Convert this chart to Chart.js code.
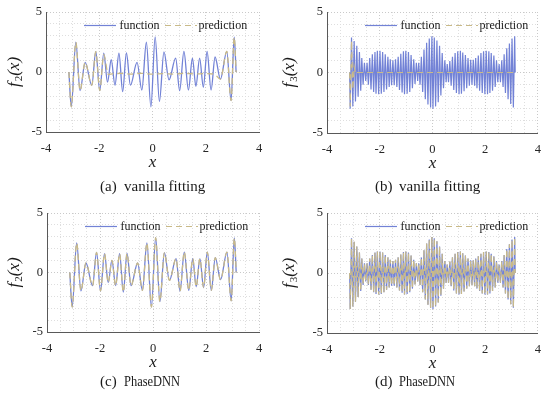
<!DOCTYPE html>
<html>
<head>
<meta charset="utf-8">
<script src="https://cdn.jsdelivr.net/npm/chart.js@4.4.1/dist/chart.umd.min.js"></script>
<style>
  body { margin: 0; background: #fff; }
  #wrap { position: relative; width: 550px; height: 399px; overflow: hidden; }
  canvas { position: absolute; }
</style>
</head>
<body>
<div id="wrap">
  <canvas id="panelA" width="275" height="200" style="left:0;top:0"></canvas>
  <canvas id="panelB" width="275" height="200" style="left:275px;top:0"></canvas>
  <canvas id="panelC" width="275" height="199" style="left:0;top:200px"></canvas>
  <canvas id="panelD" width="275" height="199" style="left:275px;top:200px"></canvas>
</div>
<script>
// ticks
const xTicks = [-4, -2, 0, 2, 4];
const yTicks = [-5, 0, 5];

// f2 (read at its peaks and troughs)
const f2X = [-3.14, -3.05, -2.88, -2.72, -2.53, -2.28, -2.13, -1.98, -1.83, -1.69,
             -1.55, -1.41, -1.26, -1.12, -0.98, -0.83, -0.58, -0.40, -0.23, -0.06,
             0.10, 0.26, 0.43, 0.62, 0.87, 1.02, 1.18, 1.35, 1.50, 1.63,
             1.77, 1.91, 2.05, 2.20, 2.35, 2.55, 2.79, 2.95, 3.07, 3.14];
const f2Y = [0, -2.9, 2.48, -1.55, 0.8, -1.1, 1.69, -1.55, 1.58, -0.85,
             1.02, -1.1, 1.58, -1.64, 1.6, -1.1, 0.8, -1.5, 2.48, -2.9,
             2.92, -2.45, 1.67, -0.66, 1.16, -1.56, 1.72, -1.5, 1.16, -1.2,
             1.16, -1.27, 1.72, -1.5, 1.25, -0.6, 1.72, -2.38, 2.9, 0];

// vanilla prediction of f2
const predAX = [-3.14, -3.05, -2.88, -2.72, -2.53, -2.28, -2.13, -1.98, -1.83, -1.66,
                -1.5, -1.2, -0.8, -0.4, 0, 0.4, 0.8, 1.2, 1.6, 2.0,
                2.32, 2.55, 2.79, 2.95, 3.07, 3.14];
const predAY = [0, -2.9, 2.48, -1.55, 0.8, -1.1, 1.69, -1.55, 1.45, -0.2,
                -0.15, -0.12, -0.17, -0.12, -0.18, -0.14, -0.17, -0.12, -0.16, -0.14,
                -0.18, -0.6, 1.72, -2.38, 2.9, 0];

// f3 (read at its peaks and troughs)
const f3X = [-3.14,
  -3.12, -3.07, -3.02, -2.97, -2.92, -2.87, -2.82, -2.77, -2.72, -2.68,
  -2.63, -2.58, -2.53, -2.48, -2.43, -2.38, -2.33, -2.28, -2.23, -2.18,
  -2.14, -2.09, -2.04, -1.99, -1.94, -1.89, -1.84, -1.79, -1.74, -1.69,
  -1.64, -1.60, -1.55, -1.50, -1.45, -1.40, -1.35, -1.30, -1.25, -1.20,
  -1.15, -1.10, -1.06, -1.01, -0.96, -0.91, -0.86, -0.81, -0.76, -0.71,
  -0.66, -0.61, -0.56, -0.52, -0.47, -0.42, -0.37, -0.32, -0.27, -0.22,
  -0.17, -0.12, -0.07, -0.02,
  0.02, 0.07, 0.12, 0.17, 0.22, 0.27, 0.32, 0.37, 0.42, 0.47,
  0.52, 0.56, 0.61, 0.66, 0.71, 0.76, 0.81, 0.86, 0.91, 0.96,
  1.01, 1.06, 1.10, 1.15, 1.20, 1.25, 1.30, 1.35, 1.40, 1.45,
  1.50, 1.55, 1.60, 1.64, 1.69, 1.74, 1.79, 1.84, 1.89, 1.94,
  1.99, 2.04, 2.09, 2.14, 2.18, 2.23, 2.28, 2.33, 2.38, 2.43,
  2.48, 2.53, 2.58, 2.63, 2.68, 2.72, 2.77, 2.82, 2.87, 2.92,
  2.97, 3.02, 3.07, 3.12,
  3.14];
const f3Y = [0,
  -3.0, 2.9, -2.8, 2.6, -2.4, 2.2, -2.0, 1.7, -1.5, 1.2,
  -1.0, 0.8, -0.7, 0.8, -1.0, 1.2, -1.4, 1.5, -1.6, 1.7,
  -1.75, 1.8, -1.8, 1.8, -1.75, 1.7, -1.6, 1.5, -1.4, 1.3,
  -1.2, 1.1, -1.05, 1.0, -1.05, 1.1, -1.2, 1.3, -1.45, 1.55,
  -1.65, 1.75, -1.8, 1.8, -1.75, 1.7, -1.6, 1.45, -1.3, 1.1,
  -0.95, 0.8, -0.7, 0.8, -1.0, 1.3, -1.6, 1.9, -2.2, 2.45,
  -2.65, 2.8, -2.9, 3.0,
  -3.0, 2.9, -2.8, 2.65, -2.45, 2.2, -1.9, 1.6, -1.3, 1.0,
  -0.8, 0.7, -0.8, 0.95, -1.1, 1.3, -1.45, 1.6, -1.7, 1.75,
  -1.8, 1.8, -1.75, 1.65, -1.55, 1.45, -1.3, 1.2, -1.1, 1.05,
  -1.0, 1.05, -1.1, 1.2, -1.3, 1.4, -1.5, 1.6, -1.7, 1.75,
  -1.8, 1.8, -1.8, 1.75, -1.7, 1.6, -1.5, 1.4, -1.2, 1.0,
  -0.8, 0.7, -0.8, 1.0, -1.2, 1.5, -1.7, 2.0, -2.2, 2.4,
  -2.6, 2.8, -2.9, 3.0,
  0];

// vanilla prediction of f3
const predBX = [-3.14, -3.12, -3.07, -3.02, -2.97, -2.92, -2.85, 3.14];
const predBY = [0, -2.8, 2.6, -1.4, 0.5, -0.1, 0, 0];

const FUNC_COLOR = "#7282d6";
const PRED_COLOR = "#c9ba88";
const SERIF = "'Liberation Serif', 'Times New Roman', serif";

const pts = (xs, ys) => xs.map((x, i) => ({ x: x, y: ys[i] }));

// axis titles, legend and caption
const panelText = {
  id: "panelText",
  afterDraw(chart, args, o) {
    const ctx = chart.ctx;
    const a = chart.chartArea;
    ctx.save();
    ctx.fillStyle = "#1a1a1a";
    ctx.textBaseline = "middle";

    // y title f_n(x), rotated
    ctx.save();
    ctx.translate(15, (a.top + a.bottom) / 2);
    ctx.rotate(-Math.PI / 2);
    const big = "italic 17px " + SERIF, small = "11px " + SERIF;
    ctx.font = big; const w1 = ctx.measureText("f").width + 1;
    ctx.font = small; const w2 = ctx.measureText(o.sub).width;
    ctx.font = big; const w3 = ctx.measureText("(x)").width;
    let x0 = -(w1 + w2 + w3) / 2;
    ctx.textAlign = "left";
    ctx.fillText("f", x0, 0);
    ctx.font = small; ctx.fillText(o.sub, x0 + w1, 4);
    ctx.font = big; ctx.fillText("(x)", x0 + w1 + w2, 0);
    ctx.restore();

    // x title
    ctx.font = "italic 17px " + SERIF;
    ctx.textAlign = "center";
    ctx.fillText("x", (a.left + a.right) / 2, a.bottom + 31);

    // legend
    const ly = a.top + 13.5;
    ctx.lineWidth = 1.2;
    ctx.strokeStyle = FUNC_COLOR;
    ctx.beginPath(); ctx.moveTo(a.left + 38, ly); ctx.lineTo(a.left + 70, ly); ctx.stroke();
    ctx.strokeStyle = PRED_COLOR;
    ctx.setLineDash([6, 4]);
    ctx.beginPath(); ctx.moveTo(a.left + 119, ly); ctx.lineTo(a.left + 151, ly); ctx.stroke();
    ctx.setLineDash([]);
    ctx.font = "12px " + SERIF;
    ctx.textAlign = "left";
    ctx.fillText("function", a.left + 73.5, ly);
    ctx.fillText("prediction", a.left + 152.5, ly);

    // caption
    ctx.font = "15px " + SERIF;
    ctx.fillText(o.tag, 100, o.capY);
    ctx.fillText(o.caption, 124, o.capY, o.capW);
    ctx.restore();
  }
};

function makePanel(id, box, fn, pred, smooth, text) {
  const H = document.getElementById(id).height;
  const line = {
    pointRadius: 0,
    borderWidth: smooth ? 1.3 : 1.2,
    fill: false,
    tension: 0,
    cubicInterpolationMode: smooth ? "monotone" : "default"
  };
  new Chart(document.getElementById(id), {
    type: "line",
    data: {
      datasets: [
        Object.assign({ label: "prediction", data: pred, borderColor: PRED_COLOR, borderDash: [6, 4], order: 0 }, line),
        Object.assign({ label: "function", data: fn, borderColor: FUNC_COLOR, order: 1 }, line)
      ]
    },
    options: {
      responsive: false,
      animation: false,
      events: [],
      layout: { padding: { left: 0, top: box.top, right: 275 - box.right, bottom: 0 } },
      scales: {
        x: {
          type: "linear", min: -4, max: 4,
          afterFit: s => { s.height = H - box.bottom; },
          ticks: {
            stepSize: 0.5, autoSkip: false, maxRotation: 0, padding: 9,
            color: "#262626", font: { family: SERIF, size: 12.5 },
            callback: v => xTicks.includes(v) ? String(v) : ""
          },
          grid: {
            drawTicks: false, lineWidth: 1,
            color: c => (c.tick && xTicks.includes(c.tick.value)) ? "#c9c9c9" : "#dedede"
          },
          border: { display: true, color: "#595959", width: 1, dash: [1, 2] }
        },
        y: {
          type: "linear", min: -5, max: 5,
          afterFit: s => { s.width = box.left; },
          ticks: {
            stepSize: 1, autoSkip: false, padding: 4,
            color: "#262626", font: { family: SERIF, size: 12.5 },
            callback: v => yTicks.includes(v) ? String(v) : ""
          },
          grid: {
            drawTicks: false, lineWidth: 1,
            color: c => (c.tick && yTicks.includes(c.tick.value)) ? "#c9c9c9" : "#dedede"
          },
          border: { display: true, color: "#595959", width: 1, dash: [1, 2] }
        }
      },
      plugins: {
        legend: { display: false },
        tooltip: { enabled: false },
        panelText: text
      }
    },
    plugins: [panelText]
  });
}

makePanel("panelA", { left: 46, right: 259, top: 12, bottom: 132 },
  pts(f2X, f2Y), pts(predAX, predAY), true,
  { sub: "2", tag: "(a)", caption: "vanilla fitting", capY: 187, capW: 82 });
makePanel("panelB", { left: 52, right: 265, top: 12, bottom: 133 },
  pts(f3X, f3Y), pts(predBX, predBY), false,
  { sub: "3", tag: "(b)", caption: "vanilla fitting", capY: 187, capW: 82 });
makePanel("panelC", { left: 47, right: 259, top: 13, bottom: 132 },
  pts(f2X, f2Y), pts(f2X, f2Y), true,
  { sub: "2", tag: "(c)", caption: "PhaseDNN", capY: 182, capW: 56 });
makePanel("panelD", { left: 52, right: 265, top: 13, bottom: 133 },
  pts(f3X, f3Y), pts(f3X, f3Y), false,
  { sub: "3", tag: "(d)", caption: "PhaseDNN", capY: 182, capW: 56 });
</script>
</body>
</html>
